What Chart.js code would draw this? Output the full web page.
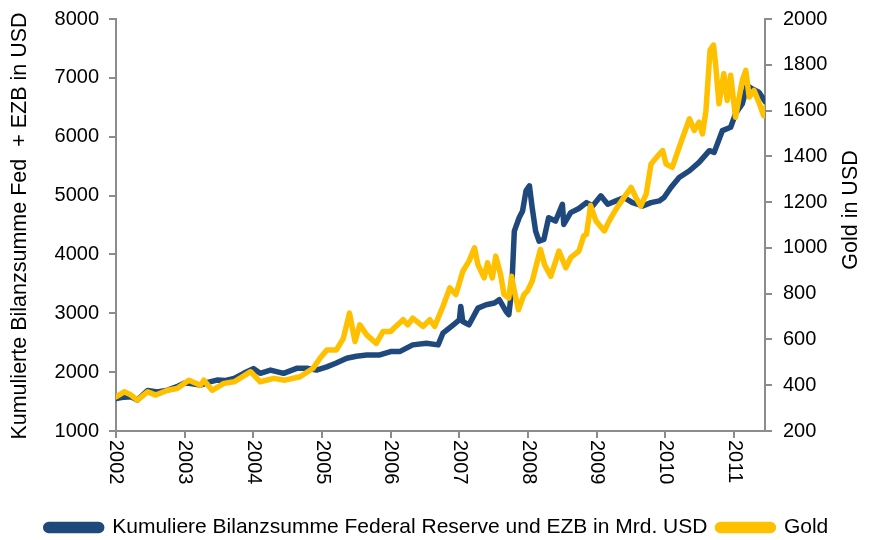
<!DOCTYPE html>
<html>
<head>
<meta charset="utf-8">
<script src="https://cdn.jsdelivr.net/npm/chart.js@4/dist/chart.umd.min.js"></script>
<style>
  html, body { margin: 0; padding: 0; background: #fff; }
  #wrap { width: 874px; height: 540px; }
</style>
</head>
<body>
<div id="wrap"><canvas id="chart" width="874" height="540"></canvas></div>
<script>
// Tick labels
const yearTicks = [2002, 2003, 2004, 2005, 2006, 2007, 2008, 2009, 2010, 2011];

// Fed + EZB balance sheet (left axis)
const fedYears = [
    2002.00, 2002.12, 2002.22, 2002.31, 2002.46, 2002.60, 2002.75, 2002.90, 2002.99, 2003.06,
    2003.23, 2003.35, 2003.47, 2003.60, 2003.72, 2003.86, 2004.00, 2004.10, 2004.25, 2004.44,
    2004.63, 2004.78, 2004.92, 2005.07, 2005.20, 2005.36, 2005.50, 2005.65, 2005.84, 2006.00,
    2006.13, 2006.32, 2006.52, 2006.69, 2006.76, 2006.88, 2007.00, 2007.02, 2007.05, 2007.14,
    2007.27, 2007.39, 2007.51, 2007.58, 2007.68, 2007.72, 2007.76, 2007.80, 2007.87, 2007.92,
    2007.97, 2008.02, 2008.06, 2008.11, 2008.16, 2008.23, 2008.30, 2008.40, 2008.50, 2008.52,
    2008.62, 2008.74, 2008.85, 2008.94, 2009.06, 2009.16, 2009.28, 2009.40, 2009.52, 2009.67,
    2009.79, 2009.91, 2009.98, 2010.08, 2010.20, 2010.35, 2010.49, 2010.64, 2010.71, 2010.83,
    2010.95, 2011.02, 2011.12, 2011.19, 2011.26, 2011.36, 2011.46
];
const fedValues = [
    1550, 1575, 1580, 1525, 1690, 1665, 1695, 1760, 1810, 1810,
    1780, 1830, 1865, 1860, 1895, 1980, 2060, 1980, 2035, 1980,
    2065, 2065, 2035, 2090, 2150, 2235, 2270, 2290, 2292, 2349,
    2349, 2463, 2491, 2463, 2661, 2775, 2889, 3117, 2860, 2804,
    3088, 3145, 3174, 3231, 3031, 2975, 3373, 4397, 4624, 4738,
    5080, 5165, 4795, 4397, 4226, 4255, 4624, 4567, 4853, 4510,
    4710, 4780, 4880, 4824, 4995, 4853, 4909, 4966, 4880, 4824,
    4880, 4909, 4966, 5137, 5307, 5421, 5563, 5763, 5734, 6104,
    6160, 6389, 6560, 6872, 6815, 6758, 6587
];

// Gold price in USD (right axis)
const goldYears = [
    2002.00, 2002.12, 2002.22, 2002.31, 2002.46, 2002.58, 2002.75, 2002.89, 2003.06, 2003.23,
    2003.28, 2003.40, 2003.57, 2003.72, 2003.96, 2004.10, 2004.30, 2004.46, 2004.68, 2004.87,
    2004.97, 2005.07, 2005.21, 2005.31, 2005.40, 2005.48, 2005.55, 2005.65, 2005.79, 2005.89,
    2006.00, 2006.05, 2006.18, 2006.25, 2006.32, 2006.47, 2006.57, 2006.64, 2006.76, 2006.86,
    2006.95, 2007.05, 2007.14, 2007.22, 2007.27, 2007.36, 2007.41, 2007.48, 2007.53, 2007.60,
    2007.65, 2007.72, 2007.76, 2007.80, 2007.86, 2007.94, 2007.99, 2008.06, 2008.11, 2008.18,
    2008.24, 2008.33, 2008.45, 2008.55, 2008.62, 2008.74, 2008.81, 2008.85, 2008.91, 2008.99,
    2009.11, 2009.18, 2009.28, 2009.38, 2009.50, 2009.57, 2009.64, 2009.72, 2009.79, 2009.89,
    2009.96, 2010.01, 2010.10, 2010.20, 2010.35, 2010.42, 2010.49, 2010.54, 2010.59, 2010.65,
    2010.70, 2010.73, 2010.78, 2010.85, 2010.90, 2010.95, 2011.02, 2011.12, 2011.17, 2011.22,
    2011.29, 2011.36, 2011.43, 2011.46
];
const goldValues = [
    349, 371, 357, 335, 371, 357, 378, 386, 422, 400,
    422, 378, 408, 415, 459, 415, 430, 422, 437, 474,
    518, 554, 554, 605, 715, 591, 664, 620, 583, 635,
    635, 650, 686, 664, 693, 657, 686, 657, 744, 825,
    796, 898, 942, 1000, 927, 869, 935, 869, 964, 884,
    796, 781, 876, 811, 730, 796, 811, 854, 913, 993,
    927, 876, 986, 913, 957, 986, 1052, 1059, 1185, 1117,
    1074, 1117, 1169, 1213, 1264, 1220, 1183, 1235, 1366, 1403,
    1425, 1366, 1352, 1439, 1564, 1513, 1549, 1498, 1600, 1864,
    1886, 1805, 1630, 1761, 1644, 1754, 1571, 1732, 1776, 1659,
    1688, 1637, 1578, 1615
];

const leftTitle = 'Kumulierte Bilanzsumme Fed  + EZB in USD';
const rightTitle = 'Gold in USD';

const FONT = '"Liberation Sans", Arial, sans-serif';
const AXIS_GRAY = '#8c8c8c';

// Build {x, y} points from the arrays
function toPoints(xs, ys) {
    return xs.map((x, i) => ({ x: x, y: ys[i] }));
}

// Fixed axis sizes so the plot area sits where it does in the original
function fixWidth(w) {
    return scale => {
        scale.width = w;
        scale.paddingTop = 0;
        scale.paddingBottom = 0;
    };
}

// Year labels rotated clockwise and vertical axis titles
const customText = {
    id: 'customText',
    afterDraw(chart) {
        const ctx = chart.ctx;
        const xScale = chart.scales.x;
        const area = chart.chartArea;
        ctx.save();
        ctx.fillStyle = '#000';
        ctx.font = '20px ' + FONT;
        ctx.textAlign = 'left';
        ctx.textBaseline = 'middle';
        yearTicks.forEach(year => {
            const px = xScale.getPixelForValue(year);
            ctx.save();
            ctx.translate(px, area.bottom + 9);
            ctx.rotate(Math.PI / 2);
            ctx.fillText(String(year), 0, 0);
            ctx.restore();
        });

        ctx.font = '21.5px ' + FONT;
        ctx.textAlign = 'center';
        ctx.save();
        ctx.translate(20, 226);
        ctx.rotate(-Math.PI / 2);
        ctx.fillText(leftTitle, 0, 0);
        ctx.restore();

        ctx.save();
        ctx.translate(851, 210);
        ctx.rotate(-Math.PI / 2);
        ctx.fillText(rightTitle, 0, 0);
        ctx.restore();
        ctx.restore();
    }
};

document.addEventListener('DOMContentLoaded', () => {
    const ctx = document.getElementById('chart').getContext('2d');
    new Chart(ctx, {
        type: 'line',
        data: {
            datasets: [{
                label: 'Kumuliere Bilanzsumme Federal Reserve und EZB in Mrd. USD',
                data: toPoints(fedYears, fedValues),
                yAxisID: 'y',
                borderColor: '#1f497d',
                backgroundColor: '#1f497d',
                borderWidth: 5.5,
                order: 1
            }, {
                label: 'Gold',
                data: toPoints(goldYears, goldValues),
                yAxisID: 'y1',
                borderColor: '#ffc000',
                backgroundColor: '#ffc000',
                borderWidth: 5.5,
                order: 0
            }]
        },
        options: {
            responsive: false,
            animation: false,
            elements: {
                point: { radius: 0 },
                line: { tension: 0, borderJoinStyle: 'round', borderCapStyle: 'round' }
            },
            layout: { padding: { top: 19, left: 0, right: 0, bottom: -8 } },
            plugins: {
                tooltip: { enabled: false },
                legend: {
                    position: 'bottom',
                    labels: {
                        sort: (a, b) => a.datasetIndex - b.datasetIndex,
                        boxWidth: 56,
                        boxHeight: 6,
                        useBorderRadius: true,
                        borderRadius: 3,
                        padding: 10,
                        color: '#000',
                        font: { family: FONT, size: 21 }
                    }
                }
            },
            scales: {
                x: {
                    type: 'linear',
                    min: 2002,
                    max: 2011.45,
                    afterBuildTicks: scale => {
                        scale.ticks = yearTicks.map(v => ({ value: v }));
                    },
                    afterFit: scale => { scale.height = 76; },
                    ticks: { display: false },
                    grid: {
                        drawOnChartArea: false,
                        drawTicks: true,
                        tickLength: 7,
                        color: AXIS_GRAY,
                        lineWidth: 2
                    },
                    border: { color: AXIS_GRAY, width: 2 }
                },
                y: {
                    position: 'left',
                    min: 1000,
                    max: 8000,
                    afterFit: fixWidth(116),
                    ticks: {
                        stepSize: 1000,
                        color: '#000',
                        padding: 10,
                        callback: value => String(value),
                        font: { family: FONT, size: 20 }
                    },
                    grid: {
                        drawOnChartArea: false,
                        tickLength: 7,
                        color: AXIS_GRAY,
                        lineWidth: 2
                    },
                    border: { color: AXIS_GRAY, width: 2 }
                },
                y1: {
                    position: 'right',
                    min: 200,
                    max: 2000,
                    afterFit: fixWidth(109),
                    ticks: {
                        stepSize: 200,
                        color: '#000',
                        padding: 11,
                        callback: value => String(value),
                        font: { family: FONT, size: 20 }
                    },
                    grid: {
                        drawOnChartArea: false,
                        tickLength: 7,
                        color: AXIS_GRAY,
                        lineWidth: 2
                    },
                    border: { color: AXIS_GRAY, width: 2 }
                }
            }
        },
        plugins: [customText]
    });
});
</script>
</body>
</html>
